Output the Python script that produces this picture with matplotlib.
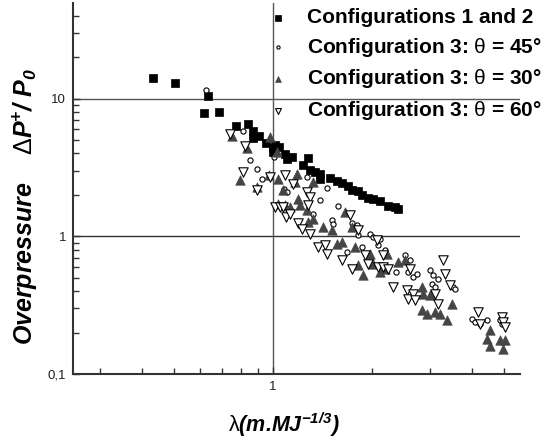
import matplotlib
matplotlib.use("Agg")
import matplotlib.pyplot as plt
from matplotlib.ticker import FixedLocator, FixedFormatter, NullFormatter

plt.rcParams['font.family'] = ['Liberation Sans', 'DejaVu Sans']
plt.rcParams['mathtext.fontset'] = 'custom'
plt.rcParams['mathtext.rm'] = 'Liberation Sans'
plt.rcParams['mathtext.default'] = 'regular'

# ---- data ----
sq_x = [0.432, 0.505, 0.637, 0.617, 0.688, 0.773, 0.842, 0.868, 0.868, 0.910, 0.952, 1.002, 1.014,
        1.046, 1.002, 1.087, 1.105, 1.139, 1.235, 1.279, 1.295, 1.34, 1.388, 1.388, 1.488, 1.56,
        1.615, 1.69, 1.732, 1.813, 1.857, 1.944, 2.013, 2.11, 2.235, 2.343, 2.398]
sq_y = [14.2, 13.07, 10.4, 7.91, 7.95, 6.35, 6.5, 5.84, 5.19, 5.37, 4.73, 4.36, 4.58,
        4.43, 4.07, 3.99, 3.67, 3.77, 3.28, 3.69, 3.01, 2.93, 2.82, 2.62, 2.64, 2.51,
        2.45, 2.31, 2.16, 2.12, 1.99, 1.90, 1.86, 1.80, 1.67, 1.62, 1.59]

c45_x = [0.627, 0.813, 0.852, 0.892, 0.924, 1.007, 1.08, 1.10, 1.265, 1.388, 1.455, 1.577, 1.319,
         1.506, 1.52, 1.673, 1.732, 1.793, 1.813, 1.857, 1.967, 2.013, 2.11, 2.085, 2.185, 2.36,
         2.512, 2.60, 2.57, 2.66, 2.725, 2.99, 3.06, 3.17, 3.03, 3.10, 3.06, 3.52, 3.56, 4.0,
         4.09, 4.24, 4.44, 4.87, 4.93]
c45_y = [11.5, 5.82, 3.59, 3.09, 2.62, 3.78, 2.22, 2.10, 2.70, 1.83, 2.26, 1.65, 1.46,
         1.31, 1.22, 0.769, 1.24, 1.20, 1.02, 0.836, 1.046, 0.988, 0.962, 0.86, 0.791, 0.55,
         0.728, 0.669, 0.55, 0.506, 0.536, 0.566, 0.521, 0.493, 0.453, 0.428, 0.384, 0.428, 0.417, 0.2525,
         0.2385, 0.232, 0.2455, 0.2455, 0.232]

c30_x = [0.75, 0.832, 0.794, 0.892, 0.979, 0.975, 1.03, 1.038, 1.075, 1.087, 1.18, 1.166, 1.193,
         1.126, 1.325, 1.038, 1.265, 1.207, 1.279, 1.325, 1.42, 1.506, 1.653, 1.732, 1.56, 1.615,
         1.772, 1.813, 1.878, 1.967, 2.013, 2.11, 2.185, 2.211, 2.398, 2.512, 2.822, 2.854, 2.99,
         2.822, 2.92, 3.10, 3.21, 3.36, 3.48, 4.44, 4.55, 4.55, 4.87, 5.05, 4.99]
c30_y = [5.37, 4.39, 2.55, 2.27, 5.26, 2.77, 4.09, 2.62, 2.16, 1.68, 2.85, 2.48, 1.88,
         1.63, 2.48, 1.73, 1.545, 1.68, 1.27, 1.345, 1.168, 1.105, 1.50, 1.168, 0.885, 0.909,
         0.836, 0.616, 0.521, 0.749, 0.634, 0.55, 0.583, 0.749, 0.651, 0.669, 0.428, 0.384, 0.373,
         0.29, 0.275, 0.282, 0.275, 0.2455, 0.324, 0.181, 0.2077, 0.159, 0.176, 0.176, 0.153]

c60_x = [0.741, 0.823, 0.813, 0.892, 0.979, 1.087, 1.152, 1.265, 1.295, 1.279, 1.014, 1.05, 1.075,
         1.095, 1.126, 1.193, 1.222, 1.295, 1.372, 1.437, 1.455, 1.615, 1.732, 1.712, 1.813, 1.90,
         1.944, 2.062, 2.085, 2.16, 2.16, 2.235, 2.315, 2.542, 2.57, 2.66, 2.69, 2.60, 3.28, 3.32,
         3.44, 3.10, 3.17, 4.19, 4.24, 4.93, 4.99, 5.05]
c60_y = [5.51, 4.50, 2.93, 2.16, 2.70, 2.77, 2.41, 2.10, 1.93, 1.68, 1.63, 1.63, 1.63,
         1.37, 1.46, 1.24, 1.137, 1.046, 0.836, 0.86, 0.749, 0.669, 0.583, 1.42, 1.105, 0.728,
         0.634, 0.935, 0.598, 0.728, 0.598, 0.583, 0.428, 0.405, 0.353, 0.384, 0.343, 0.583, 0.669, 0.536,
         0.441, 0.384, 0.324, 0.282, 0.232, 0.2594, 0.2385, 0.2195]

labels = ["Configurations 1 and 2",
          r"Configuration 3: $\mathrm{\theta}$ = 45°",
          r"Configuration 3: $\mathrm{\theta}$ = 30°",
          r"Configuration 3: $\mathrm{\theta}$ = 60°"]

ytick_vals = [0.1, 1, 10]
ytick_labels = ["0,1", "1", "10"]
xtick_vals = [1]
xtick_labels = ["1"]

# ---- figure ----
fig = plt.figure(figsize=(5.53, 4.48), dpi=100)
ax = fig.add_axes([73/553, 1-374/448, (520-73)/553, (374-3)/448])
ax.set_xscale('log')
ax.set_yscale('log')
ax.set_xlim(0.248, 5.6)
ax.set_ylim(0.1, 49.5)

ax.axhline(1, color='#333333', lw=1.0, zorder=1)
ax.axhline(10, color='#555555', lw=1.0, zorder=1)
ax.axvline(1, color='#555555', lw=1.0, zorder=1)

ax.scatter(sq_x, sq_y, marker='s', s=38, c='black', edgecolors='black', linewidths=0.5,
           label=labels[0], zorder=3)
ax.scatter(c45_x, c45_y, marker='o', s=14, facecolors='white', edgecolors='black', linewidths=0.8,
           label=labels[1], zorder=3)
ax.scatter(c30_x, c30_y, marker='^', s=46, c='#454545', edgecolors='#454545', linewidths=0.5,
           label=labels[2], zorder=3)
ax.scatter(c60_x, c60_y, marker='v', s=46, facecolors='white', edgecolors='black', linewidths=0.8,
           label=labels[3], zorder=3)

for sp in ['top', 'right']:
    ax.spines[sp].set_visible(False)
for sp in ['left', 'bottom']:
    ax.spines[sp].set_color('#333333')
    ax.spines[sp].set_linewidth(1.5)

ax.yaxis.set_major_locator(FixedLocator(ytick_vals))
ax.yaxis.set_major_formatter(FixedFormatter(ytick_labels))
ax.yaxis.set_minor_formatter(NullFormatter())
ax.xaxis.set_major_locator(FixedLocator(xtick_vals))
ax.xaxis.set_major_formatter(FixedFormatter(xtick_labels))
ax.xaxis.set_minor_formatter(NullFormatter())
ax.tick_params(which='both', direction='in', color='#333333', labelsize=9.5, labelcolor='#222222')
ax.tick_params(which='major', length=5, width=1.0, pad=5)
ax.tick_params(which='minor', length=4, width=1.0)

leg = ax.legend(loc='upper left', bbox_to_anchor=(269.7/553, 1-8/448), bbox_transform=fig.transFigure,
                frameon=False, borderpad=0, borderaxespad=0, handlelength=0.8, handletextpad=1.0,
                labelspacing=0.42, markerscale=0.62,
                prop={'family': ['Liberation Sans', 'DejaVu Sans'], 'weight': 'bold', 'size': 15})

fig.text(25/553, 1-206/448, r"Overpressure    $\mathrm{\Delta}$P$^{+}$/ P$_{0}$",
         rotation=90, ha='center', va='center', fontsize=18, fontweight='bold', fontstyle='italic')
fig.text(284/553, 1-425/448, r"$\mathrm{\lambda}$(m.MJ$^{-1/3}$)",
         ha='center', va='center', fontsize=15.5, fontweight='bold', fontstyle='italic')

fig.savefig('out.png', dpi=100)
